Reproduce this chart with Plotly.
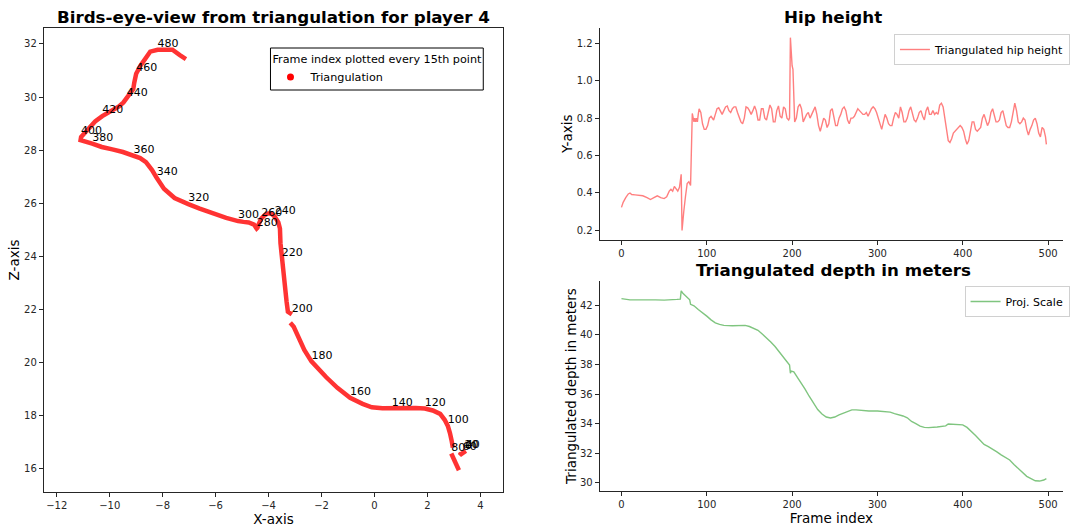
import plotly.graph_objects as go

# ---------------- data ----------------
traj_frames = [0, 10, 20, 30, 40, 50, 60, 65, 69, 70, 71, 74, 77, 80, 81, 82, 85, 90, 95,
               100, 105, 110, 115, 120, 125, 130, 135, 140, 145, 150, 155, 160, 165, 170, 175,
               180, 185, 190, 195, 196, 198, 200, 202, 205, 210, 215, 220, 225, 230, 235,
               240, 245, 250, 255, 260, 265, 270, 275, 280, 285, 290, 295, 300, 305, 310,
               315, 320, 325, 330, 335, 340, 345, 350, 355, 360, 365, 370, 375, 380, 385,
               390, 395, 400, 405, 410, 415, 420, 425, 430, 435, 440, 445, 450, 455, 460,
               465, 470, 475, 480, 485, 490, 495, 498]
traj_x = [3.42, 3.36, 3.40, 3.30, 3.45, 3.26, 3.33, 3.22, 3.27, None, 3.19, 3.10, 3.00, 2.90, None,
          2.96, 2.95, 2.91, 2.85,
          2.77, 2.65, 2.48, 2.20, 1.90, 1.55, 1.25, 0.95, 0.65, 0.30, -0.10, -0.45, -0.92, -1.40,
          -1.82, -2.12, -2.38, -2.65, -2.85, -3.05, -3.18, None, -3.12, -3.27, -3.32, -3.40, -3.46,
          -3.50, -3.55, -3.57, -3.63, -3.77, -3.90, -4.02, -4.15, -4.28, -4.35, -4.38, -4.42,
          -4.45, -4.55, -4.75, -4.95, -5.15, -5.60, -6.12, -6.60, -7.03, -7.55, -7.95, -8.10,
          -8.22, -8.40, -8.63, -8.85, -9.10, -9.50, -9.90, -10.30, -10.66, -10.85, -10.98,
          -11.10, -11.08, -10.95, -10.75, -10.55, -10.28, -9.95, -9.65, -9.48, -9.36, -9.22,
          -9.11, -9.07, -9.00, -8.82, -8.65, -8.47, -8.19, -7.90, -7.63, -7.35, -7.12]
traj_z = [16.66, 16.62, 16.67, 16.58, 16.68, 16.55, 16.62, 16.52, 16.60, None, 15.95, 16.15, 16.38,
          16.58, None, 16.80, 16.92, 17.08, 17.35,
          17.62, 17.85, 18.07, 18.20, 18.27, 18.29, 18.28, 18.27, 18.28, 18.28, 18.32, 18.45,
          18.68, 19.05, 19.45, 19.78, 20.05, 20.48, 20.88, 21.35, 21.50, None, 21.82, 21.92,
          22.30, 22.95, 23.45, 23.90, 24.50, 25.05, 25.28, 25.50, 25.62, 25.62, 25.55, 25.42,
          25.30, 25.20, 25.08, 25.05, 25.20, 25.28, 25.30, 25.33, 25.45, 25.62, 25.80, 25.97,
          26.20, 26.55, 26.75, 26.95, 27.25, 27.55, 27.70, 27.80, 27.93, 28.03, 28.12, 28.25,
          28.30, 28.33, 28.38, 28.50, 28.65, 28.90, 29.08, 29.28, 29.45, 29.65, 29.80, 29.95,
          30.15, 30.30, 30.55, 30.88, 31.21, 31.46, 31.71, 31.78, 31.80, 31.78, 31.58, 31.43]
label_step = 20

hip_frames = [0, 2, 5, 8, 10, 12, 16, 20, 25, 30, 34, 38, 42, 46, 50, 53, 56, 58, 60, 62, 64, 66,
              68, 70, 71, 72, 73, 75, 77, 79, 81, 83, 85, 86, 87, 88, 89, 90, 91, 93, 95, 97, 99,
              101, 103, 105, 107, 108, 110, 112, 114, 116, 118, 120, 122, 124, 126, 128, 130,
              132, 134, 136, 138, 140, 142, 144, 146, 148, 150, 152, 154, 156, 158, 160, 162,
              164, 166, 168, 170, 172, 174, 176, 178, 180, 182, 184, 186, 188, 190, 192, 194,
              196, 197, 198, 199, 200, 201, 203, 205, 207, 209, 211, 213, 215, 217, 219, 221,
              223, 225, 227, 229, 231, 233, 235, 237, 239, 241, 243, 245, 247, 249, 251, 253,
              255, 257, 259, 261, 263, 265, 267, 269, 271, 273, 275, 277, 279, 281, 283, 285,
              287, 289, 291, 293, 295, 297, 299, 301, 303, 305, 307, 309, 311, 313, 315, 317,
              319, 321, 323, 325, 327, 329, 331, 333, 335, 337, 339, 341, 343, 345, 347, 349,
              351, 353, 355, 357, 359, 361, 363, 365, 367, 369, 371, 373, 375, 377, 379, 381,
              383, 385, 387, 389, 391, 393, 395, 397, 399, 401, 403, 405, 407, 409, 411, 413,
              415, 417, 419, 421, 423, 425, 427, 429, 431, 433, 435, 437, 439, 441, 443, 445,
              447, 449, 451, 453, 455, 457, 459, 461, 463, 465, 467, 469, 471, 473, 475, 477,
              479, 481, 483, 485, 487, 489, 491, 493, 495, 497, 498]
hip_values = [0.323, 0.35, 0.375, 0.395, 0.40, 0.392, 0.39, 0.388, 0.385, 0.375, 0.365, 0.375,
              0.385, 0.375, 0.37, 0.38, 0.41, 0.42, 0.41, 0.435, 0.425, 0.41, 0.43, 0.50, 0.20,
              0.27, 0.30, 0.38, 0.45, 0.46, 0.44, 0.825, 0.78, 0.80, 0.78, 0.80, 0.78, 0.82,
              0.85, 0.83, 0.77, 0.74, 0.74,
              0.76, 0.80, 0.81, 0.80, 0.79, 0.82, 0.85, 0.855, 0.84, 0.82, 0.84, 0.86, 0.865,
              0.84, 0.83, 0.85, 0.86, 0.86, 0.83, 0.80, 0.78, 0.77, 0.80, 0.86, 0.855, 0.84,
              0.82, 0.84, 0.865, 0.84, 0.79, 0.79, 0.85, 0.85, 0.80, 0.79, 0.84, 0.87, 0.85,
              0.78, 0.78, 0.84, 0.865, 0.81, 0.80, 0.86, 0.85, 0.80, 0.79, 0.80, 1.23, 1.12,
              1.08, 1.06, 0.78, 0.80, 0.86, 0.875, 0.85, 0.78, 0.80, 0.82, 0.83, 0.80, 0.82,
              0.84, 0.86, 0.82, 0.76, 0.73, 0.76, 0.80, 0.79, 0.75, 0.77, 0.84, 0.85, 0.80,
              0.76, 0.76, 0.80, 0.82, 0.85, 0.86, 0.84, 0.79, 0.77, 0.80, 0.80, 0.81, 0.83,
              0.85, 0.84, 0.83, 0.82, 0.82, 0.83, 0.81, 0.83, 0.85, 0.86, 0.85, 0.83, 0.80,
              0.76, 0.74, 0.78, 0.82, 0.80, 0.77, 0.76, 0.76, 0.80, 0.83, 0.82, 0.80, 0.86,
              0.83, 0.78, 0.78, 0.80, 0.84, 0.86, 0.82, 0.79, 0.78, 0.80, 0.83, 0.84, 0.81,
              0.79, 0.84, 0.86, 0.82, 0.82, 0.84, 0.82, 0.83, 0.82, 0.87, 0.88, 0.86, 0.80,
              0.72, 0.68, 0.67, 0.69, 0.72, 0.73, 0.74, 0.75, 0.76, 0.75, 0.73, 0.69, 0.66,
              0.68, 0.73, 0.78, 0.78, 0.74, 0.73, 0.74, 0.75, 0.80, 0.82, 0.79, 0.76, 0.78,
              0.83, 0.85, 0.82, 0.78, 0.78, 0.79, 0.83, 0.84, 0.80, 0.76, 0.75, 0.75, 0.78,
              0.84, 0.88, 0.84, 0.78, 0.77, 0.78, 0.80, 0.79, 0.74, 0.71, 0.74, 0.76, 0.79,
              0.80, 0.77, 0.72, 0.70, 0.75, 0.74, 0.70, 0.66]

depth_frames = [0, 5, 10, 20, 30, 40, 50, 55, 60, 65, 69, 70, 72, 75, 78, 80, 81, 85, 90, 95,
                100, 105, 110, 115, 120, 130, 140, 145, 150, 155, 160, 165, 170, 175, 180, 185,
                190, 195, 197, 198, 199, 202, 205, 210, 215, 220, 225, 230, 235, 240, 245, 250,
                255, 260, 265, 270, 275, 280, 290, 300, 310, 315, 320, 325, 330, 335, 340, 345,
                350, 355, 360, 370, 380, 383, 385, 390, 400, 405, 410, 415, 420, 425, 430, 435,
                440, 445, 450, 455, 460, 465, 470, 475, 480, 485, 490, 495, 498]
depth_values = [42.43, 42.38, 42.35, 42.35, 42.37, 42.35, 42.33, 42.33, 42.37, 42.38, 42.40,
                42.95, 42.80, 42.65, 42.45, 42.35, 42.05, 41.95, 41.70, 41.50, 41.25, 41.00,
                40.80, 40.70, 40.63, 40.60, 40.60, 40.63, 40.55, 40.45, 40.30, 40.05, 39.80,
                39.50, 39.20, 38.85, 38.50, 38.10, 37.95, 37.40, 37.55, 37.50, 37.25, 36.80,
                36.35, 35.85, 35.35, 34.95, 34.65, 34.45, 34.38, 34.45, 34.60, 34.72, 34.85,
                34.93, 34.93, 34.90, 34.85, 34.85, 34.80, 34.78, 34.68, 34.62, 34.52, 34.40,
                34.15, 34.00, 33.83, 33.75, 33.73, 33.78, 33.85, 33.98, 33.97, 33.93, 33.92,
                33.75, 33.50, 33.20, 32.90, 32.60, 32.45, 32.30, 32.10, 31.90, 31.75, 31.55,
                31.25, 31.00, 30.70, 30.45, 30.30, 30.15, 30.13, 30.20, 30.30]

# ---------------- figure ----------------
W, H = 1070, 530
FONT = "DejaVu Sans"
AX = "#262626"


def px(x):
    return x / W


def py(y):
    return 1 - y / H


fig = go.Figure()

# trajectory line
fig.add_trace(go.Scatter(
    x=traj_x, y=traj_z, mode="lines", connectgaps=False,
    line=dict(color="rgba(255,0,0,0.8)", width=4.5),
    showlegend=False, xaxis="x", yaxis="y", hoverinfo="skip"))

# frame labels
lab_x, lab_z, lab_t = [], [], []
for f, xx, zz in zip(traj_frames, traj_x, traj_z):
    if xx is not None and f % label_step == 0:
        lab_x.append(xx)
        lab_z.append(zz)
        lab_t.append(str(f))
fig.add_trace(go.Scatter(
    x=lab_x, y=lab_z, mode="text", text=lab_t, textposition="top right",
    textfont=dict(family=FONT, size=11, color="black"),
    showlegend=False, xaxis="x", yaxis="y", hoverinfo="skip"))

# legend entry for triangulation
fig.add_trace(go.Scatter(
    x=[None], y=[None], mode="markers", name="Triangulation",
    marker=dict(color="red", size=7), xaxis="x", yaxis="y", legend="legend"))

fig.add_trace(go.Scatter(
    x=hip_frames, y=hip_values, mode="lines", name="Triangulated hip height",
    line=dict(color="rgba(255,0,0,0.5)", width=1.4), xaxis="x2", yaxis="y2",
    legend="legend2"))

fig.add_trace(go.Scatter(
    x=depth_frames, y=depth_values, mode="lines", name="Proj. Scale",
    line=dict(color="rgba(0,140,0,0.5)", width=1.4), xaxis="x3", yaxis="y3",
    legend="legend3"))

tick_font = dict(family=FONT, size=10, color=AX)
common = dict(showgrid=False, zeroline=False, showline=True, linecolor=AX, linewidth=1,
              ticks="outside", ticklen=4, tickcolor=AX, tickfont=tick_font)
tfont = dict(family=FONT, size=13.5, color="black")

fig.update_layout(
    width=W, height=H, margin=dict(l=0, r=0, t=0, b=0),
    paper_bgcolor="white", plot_bgcolor="white",
    font=dict(family=FONT, color="black"),
    xaxis=dict(domain=[px(44), px(506)], range=[-12.49, 4.86], dtick=2, mirror=True,
               anchor="y", title=dict(text="X-axis", font=tfont, standoff=3), **common),
    yaxis=dict(domain=[py(492), py(28)], range=[15.13, 32.6], dtick=2, mirror=True,
               anchor="x", title=dict(text="Z-axis", font=tfont, standoff=1), **common),
    xaxis2=dict(domain=[px(603), px(1069)], range=[-25.6, 517.5], dtick=100, anchor="y2", **common),
    yaxis2=dict(domain=[py(239.5), py(28)], range=[0.1515, 1.2815], dtick=0.2, tickformat=".1f",
                anchor="x2", title=dict(text="Y-axis", font=tfont, standoff=0), **common),
    xaxis3=dict(domain=[px(603), px(1069)], range=[-25.6, 517.5], dtick=100, anchor="y3",
                title=dict(text="Frame index", font=tfont, standoff=3), **common),
    yaxis3=dict(domain=[py(491), py(281)], range=[29.46, 43.62], dtick=2, anchor="x3",
                title=dict(text="Triangulated depth in meters", font=tfont, standoff=0),
                **common),
    legend=dict(x=px(272), y=py(48), xanchor="left", yanchor="top",
                bgcolor="rgba(0,0,0,0)", borderwidth=0,
                title=dict(text="Frame index plotted every 15th point",
                           font=dict(family=FONT, size=11.2)),
                font=dict(family=FONT, size=11.2), itemwidth=30),
    legend2=dict(x=px(899), y=py(34), xanchor="left", yanchor="top",
                 bgcolor="white", bordercolor="#d0d0d0", borderwidth=1,
                 font=dict(family=FONT, size=11)),
    legend3=dict(x=px(970), y=py(286), xanchor="left", yanchor="top",
                 bgcolor="white", bordercolor="#d0d0d0", borderwidth=1,
                 font=dict(family=FONT, size=11)),
    shapes=[dict(type="rect", xref="paper", yref="paper",
                 x0=px(272), x1=px(486), y0=py(90), y1=py(48),
                 line=dict(color="black", width=1))],
    annotations=[
        dict(text="<b>Birds-eye-view from triangulation for player 4</b>", x=px(275), y=py(17),
             xref="paper", yref="paper", xanchor="center", yanchor="middle", showarrow=False,
             font=dict(family=FONT, size=16.7)),
        dict(text="<b>Hip height</b>", x=px(838), y=py(17), xref="paper", yref="paper",
             xanchor="center", yanchor="middle", showarrow=False,
             font=dict(family=FONT, size=16.7)),
        dict(text="<b>Triangulated depth in meters</b>", x=px(838), y=py(270), xref="paper",
             yref="paper", xanchor="center", yanchor="middle", showarrow=False,
             font=dict(family=FONT, size=16.7)),
    ],
)

fig.write_html("out.html")
